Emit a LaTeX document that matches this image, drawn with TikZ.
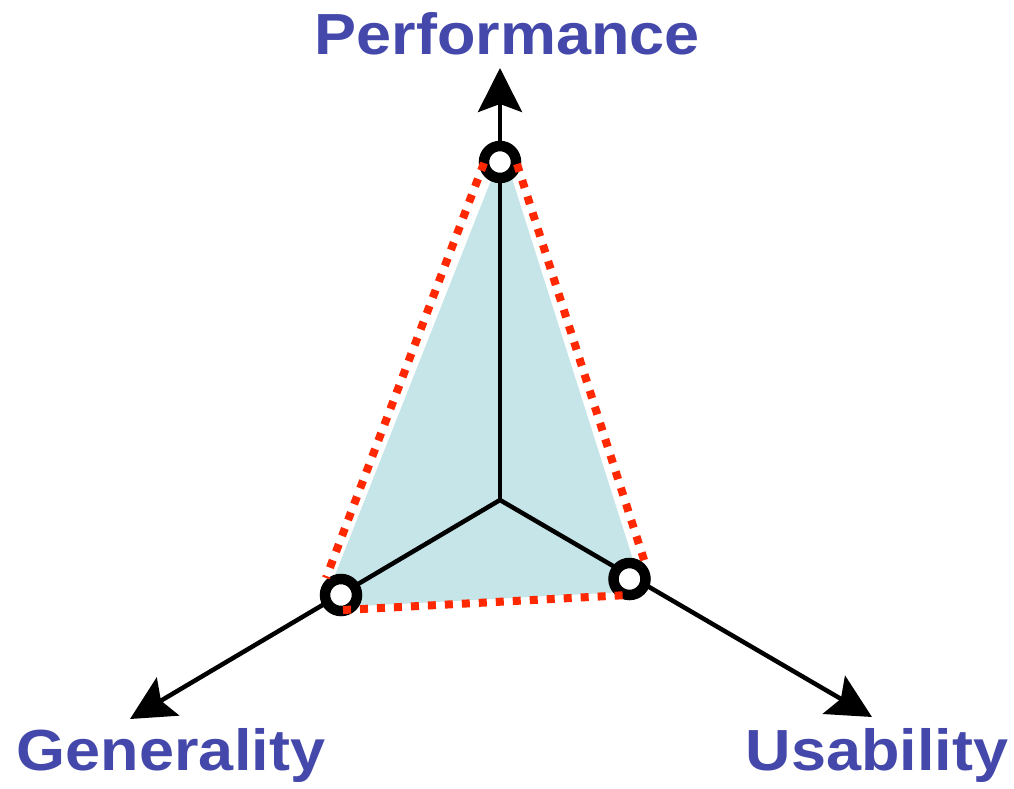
\documentclass[tikz,border=0pt]{standalone}
\usepackage{fontspec}
\setmainfont{Liberation Sans}
\usetikzlibrary{arrows.meta}
\definecolor{lbl}{RGB}{68,72,170}
\definecolor{teal0}{RGB}{197,229,232}
\definecolor{reddot}{RGB}{255,40,0}
\begin{document}
\begin{tikzpicture}[x=1pt,y=-1pt,
  axis/.style={line width=4.5pt,-{Stealth[length=44pt,width=44pt,inset=8pt]}},
  ring/.style={circle,draw=black,fill=white,line width=10.5pt,minimum size=32pt,inner sep=0pt},
  reddots/.style={draw=reddot,line width=8pt,dash pattern=on 8pt off 9pt},
  lab/.style={text=lbl,font=\bfseries\fontsize{58}{64}\selectfont,inner sep=0pt,anchor=base,xscale=1.086}]
\useasboundingbox (0,0) rectangle (1014,789);
% area
\fill[teal0] (503,150) -- (322,608) -- (643,591) -- cycle;
% axes
\coordinate (O) at (500,500);
\coordinate (tP) at (500,68);
\coordinate (tG) at (130,719);
\coordinate (tU) at (872,717);
\draw[axis] (O) -- (tP);
\draw[axis] (O) -- (tG);
\draw[axis] (O) -- (tU);
% rings
\node[ring] (P) at (500,162) {};
\node[ring] (G) at (341,595) {};
\node[ring] (U) at (629.5,579) {};
% dotted outline
\coordinate (pl) at (484,163);
\coordinate (gl) at (326,578);
\coordinate (pr) at (517,164);
\coordinate (ur) at (645,563);
\coordinate (gb) at (343,610);
\coordinate (ub) at (628,595);
\draw[reddots] (pl) -- (gl);
\draw[reddots] (pr) -- (ur);
\draw[reddots] (gb) -- (ub);
% labels
\node[lab] (lP) at (507.5,54.5) {Performance};
\node[lab] (lG) at (171,770) {Generality};
\node[lab] (lU) at (877,770) {Usability};
\end{tikzpicture}
\end{document}
